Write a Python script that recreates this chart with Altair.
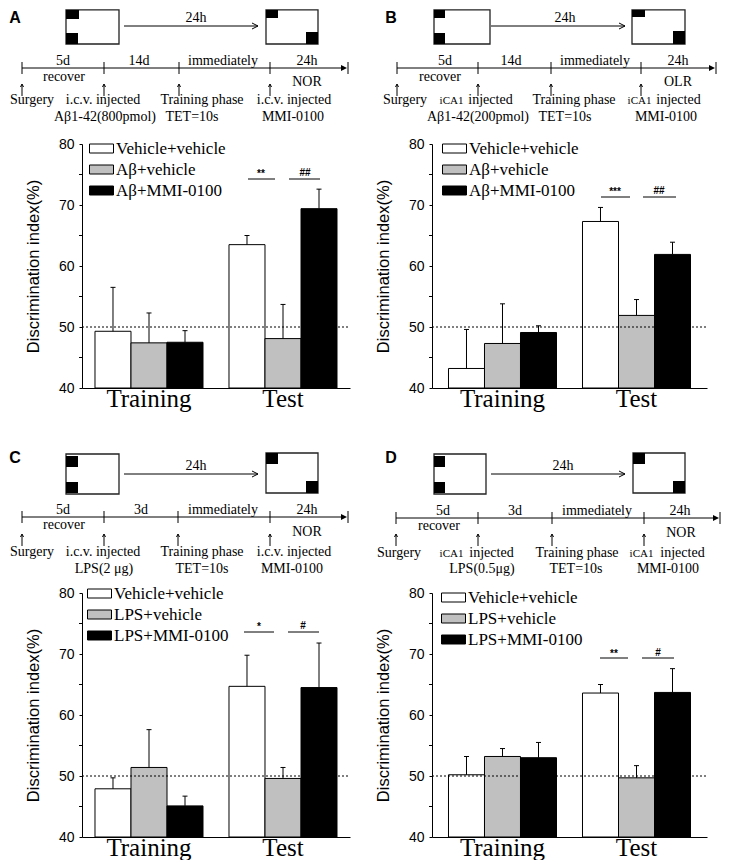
import altair as alt
import pandas as pd

SERIF = "Liberation Serif"
SANS = "Liberation Sans"

GROUPS = ["Training", "Test"]
SERIES_AB = ["Vehicle+vehicle", "Aβ+vehicle", "Aβ+MMI-0100"]
SERIES_CD = ["Vehicle+vehicle", "LPS+vehicle", "LPS+MMI-0100"]
FILLS = ["#ffffff", "#c0c0c0", "#000000"]

Y_MAJOR = [40, 50, 60, 70, 80]
Y_MINOR = [45, 55, 65, 75]
CHANCE = [50]

A_TRAIN = [49.3, 47.4, 47.5]
A_TRAIN_SEM = [7.2, 4.9, 1.9]
A_TEST = [63.5, 48.1, 69.4]
A_TEST_SEM = [1.5, 5.6, 3.2]
A_SIG = ["**", "##"]

B_TRAIN = [43.2, 47.3, 49.1]
B_TRAIN_SEM = [6.4, 6.5, 1.1]
B_TEST = [67.3, 51.9, 61.9]
B_TEST_SEM = [2.3, 2.6, 2.0]
B_SIG = ["***", "##"]

C_TRAIN = [47.9, 51.4, 45.1]
C_TRAIN_SEM = [1.8, 6.2, 1.6]
C_TEST = [64.7, 49.6, 64.5]
C_TEST_SEM = [5.1, 1.8, 7.3]
C_SIG = ["*", "#"]

D_TRAIN = [50.2, 53.2, 53.0]
D_TRAIN_SEM = [3.0, 1.3, 2.5]
D_TEST = [63.6, 49.7, 63.7]
D_TEST_SEM = [1.4, 2.0, 3.9]
D_SIG = ["**", "#"]

# protocol schematic texts (drawn as annotation above each bar chart)
A_STEPS = ["5d", "14d", "immediately", "24h"]
B_STEPS = ["5d", "14d", "immediately", "24h"]
C_STEPS = ["5d", "3d", "immediately", "24h"]
D_STEPS = ["5d", "3d", "immediately", "24h"]

H = 244
LEG_PATH = "M-1,-0.375H1V0.375H-1Z"

X_AXIS = alt.Axis(title=None, labelAngle=0, labelFont=SERIF, labelFontSize=25, labelColor="black",
                  ticks=False, domainColor="black", domainWidth=1, labelPadding=-2, grid=False)
Y_AXIS = alt.Axis(values=Y_MAJOR, title="Discrimination index(%)", titleFont=SANS, titleFontSize=16.5,
                  titleFontWeight="normal", titleColor="black", titlePadding=17, labelFont=SANS,
                  labelFontSize=14, labelColor="black", labelPadding=5, tickSize=3, tickColor="black",
                  tickWidth=1, domainColor="black", domainWidth=1, grid=False, labelFlush=False,
                  labelOverlap=False)


def pix(x, y):
    return (alt.X(x, scale=None), alt.Y(y, scale=None))


def schematic(s, ox, oy):
    layers = []
    X, Y = pix("x1:Q", "y1:Q")
    bx = pd.DataFrame([{"x1": a - ox, "x2": b - ox, "y1": c - oy, "y2": d - oy} for a, b, c, d in s["boxes"]])
    layers.append(alt.Chart(bx).mark_rect(fill="white", stroke="#222222", strokeWidth=1.3).encode(
        x=X, x2="x2:Q", y=Y, y2="y2:Q"))
    sq = pd.DataFrame([{"x1": a - ox, "x2": b - ox, "y1": c - oy, "y2": d - oy} for a, b, c, d in s["squares"]])
    layers.append(alt.Chart(sq).mark_rect(fill="black").encode(x=X, x2="x2:Q", y=Y, y2="y2:Q"))
    segs = []
    ax0, ax1, ay = s["arrow"]
    segs.append((ax0, ay, ax1, ay))
    ty = s["tl_y"]
    ticks = s["ticks"]
    end = s["end"]
    segs.append((ticks[0], ty, end - 3, ty))
    for t in ticks:
        segs.append((t, ty - 6, t, ty + 6))
    segs.append((end, ty - 6, end, ty + 6))
    u0, u1 = s["up"]
    for t in ticks:
        segs.append((t, u0 + 0.5, t, u1))
    for (a, b, yy) in s["sig_lines"]:
        segs.append((a, yy, b, yy))
    sg = pd.DataFrame([{"x1": a - ox, "y1": b - oy, "x2": c - ox, "y2": d - oy} for a, b, c, d in segs])
    layers.append(alt.Chart(sg).mark_rule(color="black", strokeWidth=1).encode(
        x=X, x2="x2:Q", y=Y, y2="y2:Q"))
    hr = pd.DataFrame([{"x1": ax1 - ox, "y1": ay - oy}])
    layers.append(alt.Chart(hr).mark_point(shape="M-1,-0.5L0,0L-1,0.5", filled=False, color="black",
                                           strokeWidth=1, size=144, opacity=1).encode(x=X, y=Y))
    ht = pd.DataFrame([{"x1": end - 1 - ox, "y1": ty - oy}])
    layers.append(alt.Chart(ht).mark_point(shape="M-1,-0.5L0,0L-1,0.5Z", filled=True, color="black",
                                           size=144, opacity=1).encode(x=X, y=Y))
    hu = pd.DataFrame([{"x1": t - ox, "y1": u0 - oy} for t in ticks])
    layers.append(alt.Chart(hu).mark_point(shape="M-0.5,1L0,0L0.5,1", filled=False, color="black",
                                           strokeWidth=1, size=36, opacity=1).encode(x=X, y=Y))
    tx = pd.DataFrame([{"t": t, "x1": x - ox, "y1": y - oy, "fs": fs} for t, x, y, fs in s["texts"]])
    layers.append(alt.Chart(tx).mark_text(font=SERIF, align="center", baseline="alphabetic", color="black").encode(
        x=X, y=Y, text="t:N", size=alt.Size("fs:Q", scale=None, legend=None)))
    st = pd.DataFrame([{"t": t, "x1": x - ox, "y1": y - oy} for t, x, y in s["sig_texts"]])
    layers.append(alt.Chart(st).mark_text(font=SANS, fontSize=10, fontWeight="bold", align="center",
                                          baseline="alphabetic", color="black").encode(x=X, y=Y, text="t:N"))
    lt = pd.DataFrame([{"t": s["letter"][0], "x1": s["letter"][1] - ox, "y1": s["letter"][2] - oy}])
    layers.append(alt.Chart(lt).mark_text(font=SANS, fontSize=16, fontWeight="bold", align="center",
                                          baseline="top", color="black").encode(x=X, y=Y, text="t:N"))
    return layers


def panel(series, train, train_sem, test, test_sem, geo, sch, anchor=False):
    ox, oy, W, po, lx, ly = geo
    rows = []
    for g, means, sems in (("Training", train, train_sem), ("Test", test, test_sem)):
        for s_, m, e in zip(series, means, sems):
            rows.append({"group": g, "series": s_, "mean": m, "sem": e})
    df = pd.DataFrame(rows)
    xs = alt.Scale(domain=GROUPS, paddingInner=0.194, paddingOuter=po)
    xos = alt.Scale(domain=series, paddingInner=0, paddingOuter=0)
    ys = alt.Scale(domain=[40, 80], nice=False, zero=False)
    base = alt.Chart(df).transform_calculate(upper="datum.mean + datum.sem")
    bars = base.mark_bar(stroke="black", strokeWidth=1).encode(
        x=alt.X("group:N", scale=xs, axis=X_AXIS),
        xOffset=alt.XOffset("series:N", scale=xos),
        y=alt.Y("mean:Q", scale=ys, axis=Y_AXIS),
        y2=alt.datum(40),
        fill=alt.Fill("series:N", scale=alt.Scale(domain=series, range=FILLS),
                      legend=alt.Legend(orient="none", legendX=lx, legendY=ly, title=None,
                                        symbolType=LEG_PATH, symbolSize=576, symbolStrokeColor="black",
                                        symbolStrokeWidth=1, labelFont=SERIF, labelFontSize=17,
                                        labelColor="black", labelOffset=2, rowPadding=-4, padding=0,
                                        symbolOffset=0, labelLimit=300)),
    )
    err = base.mark_rule(color="black", strokeWidth=1).encode(
        x=alt.X("group:N", scale=xs, axis=X_AXIS), xOffset=alt.XOffset("series:N", scale=xos),
        y=alt.Y("mean:Q", scale=ys, axis=Y_AXIS), y2="upper:Q")
    cap = base.mark_tick(color="black", thickness=1, size=5, opacity=1).encode(
        x=alt.X("group:N", scale=xs, axis=X_AXIS), xOffset=alt.XOffset("series:N", scale=xos),
        y=alt.Y("upper:Q", scale=ys, axis=Y_AXIS))
    chance = alt.Chart(pd.DataFrame({"v": CHANCE})).mark_rule(color="black", strokeWidth=1, strokeDash=[2, 2]).encode(
        y=alt.Y("v:Q", scale=ys, axis=Y_AXIS), x=alt.value(0), x2=alt.value(W))
    minor = alt.Chart(pd.DataFrame({"v": Y_MINOR})).mark_rule(color="black", strokeWidth=1).encode(
        y=alt.Y("v:Q", scale=ys, axis=Y_AXIS), x=alt.value(-3), x2=alt.value(0))
    layers = [bars, chance, err, cap, minor] + schematic(sch, ox, oy)
    if anchor:
        X, Y = pix("x1:Q", "y1:Q")
        layers.append(alt.Chart(pd.DataFrame([{"x1": 8 - ox, "y1": 8 - oy}])).mark_point(
            size=1, opacity=0).encode(x=X, y=Y))
    return alt.layer(*layers).properties(width=W, height=H)


def texts_for(steps, xs_steps, y_above, below, row1, row2):
    out = [(t, x, y_above, 14) for t, x in zip(steps, xs_steps)]
    out += [(t, x, y, 14) for t, x, y in below]
    out += row1 + row2
    return out


SCH_A = dict(
    letter=("A", 14, 8.5),
    boxes=[(65, 118, 8.8, 43), (265, 317, 8.8, 43)],
    squares=[(65, 78, 9, 18), (65, 77, 32, 43), (265, 277, 9, 17), (305, 317, 31, 43)],
    arrow=(123, 257, 25),
    tl_y=67, ticks=[21, 103, 178, 269], end=347, up=(83, 95),
    sig_lines=[(247, 274, 178), (288, 319, 178)],
    sig_texts=[(A_SIG[0], 260, 176), (A_SIG[1], 304, 175)],
    texts=texts_for(A_STEPS, [62, 138, 222, 306], 64,
                    [("recover", 63, 80), ("NOR", 306, 85)],
                    [("Surgery", 31, 103, 14), ("i.c.v. injected", 102, 103, 14),
                     ("Training phase", 201, 103, 14), ("i.c.v. injected", 293, 103, 14)],
                    [("Aβ1-42(800pmol)", 104, 120, 14), ("TET=10s", 191, 120, 14), ("MMI-0100", 292, 120, 14)])
    + [("24h", 195, 21, 14)],
)
SCH_B = dict(
    letter=("B", 390, 8.5),
    boxes=[(433, 489, 8.8, 43), (631, 684, 8.8, 43)],
    squares=[(433, 444, 9, 17), (433, 444, 32, 43), (631, 644, 9, 16), (672, 684, 30, 43)],
    arrow=(490, 624, 25),
    tl_y=67, ticks=[396, 477, 550, 640], end=715, up=(83, 95),
    sig_lines=[(600, 629, 196), (642, 675, 196)],
    sig_texts=[(B_SIG[0], 614, 194), (B_SIG[1], 658, 193)],
    texts=texts_for(B_STEPS, [444, 510, 594, 677], 64,
                    [("recover", 439, 80), ("OLR", 677, 85)],
                    [("Surgery", 404, 103, 14), ("iCA1", 450.5, 103, 11), ("injected", 489.5, 103, 14),
                     ("Training phase", 573, 103, 14), ("iCA1", 638.5, 103, 11), ("injected", 677.5, 103, 14)],
                    [("Aβ1-42(200pmol)", 477, 120, 14), ("TET=10s", 564, 120, 14), ("MMI-0100", 665, 120, 14)])
    + [("24h", 564, 21, 14)],
)
SCH_C = dict(
    letter=("C", 14, 449),
    boxes=[(65, 118, 453, 493), (265, 317, 452, 492)],
    squares=[(65, 77, 455, 466), (65, 77, 481, 492), (265, 277, 452, 463), (305, 317, 480, 492)],
    arrow=(123, 257, 473),
    tl_y=516, ticks=[21, 103, 177, 269], end=347, up=(533, 545),
    sig_lines=[(243, 273, 631), (287, 318, 631)],
    sig_texts=[(C_SIG[0], 258, 629), (C_SIG[1], 302, 628)],
    texts=texts_for(C_STEPS, [62, 140, 222, 306], 513,
                    [("recover", 63, 528), ("NOR", 306, 535)],
                    [("Surgery", 31, 555, 14), ("i.c.v. injected", 102, 555, 14),
                     ("Training phase", 201, 555, 14), ("i.c.v. injected", 293, 555, 14)],
                    [("LPS(2 μg)", 103, 572, 14), ("TET=10s", 201, 572, 14), ("MMI-0100", 291, 572, 14)])
    + [("24h", 195, 469, 14)],
)
SCH_D = dict(
    letter=("D", 390, 449),
    boxes=[(433, 485, 453, 493), (632, 684, 452, 492)],
    squares=[(433, 444, 455, 466), (433, 444, 481, 492), (632, 644, 452, 463), (672, 684, 480, 492)],
    arrow=(490, 624, 473),
    tl_y=517, ticks=[395, 477, 551, 643], end=719, up=(533, 545),
    sig_lines=[(599, 627, 657), (641, 673, 657)],
    sig_texts=[(D_SIG[0], 613, 656), (D_SIG[1], 657, 655)],
    texts=texts_for(D_STEPS, [442, 514, 596, 679], 514,
                    [("recover", 438, 529), ("NOR", 680, 536)],
                    [("Surgery", 398, 556, 14), ("iCA1", 450.5, 556, 11), ("injected", 490.5, 556, 14),
                     ("Training phase", 576, 556, 14), ("iCA1", 640.5, 556, 11), ("injected", 681.5, 556, 14)],
                    [("LPS(0.5μg)", 481, 572, 14), ("TET=10s", 575, 572, 14), ("MMI-0100", 667, 572, 14)])
    + [("24h", 562, 469, 14)],
)

# geometry: plot origin x, y, width, outer band padding, legend x, legend y
GEO_A = (81, 143, 268, 0.097, 7, -8)
GEO_B = (431, 143, 275, 0.1231, 10, -8)
GEO_C = (81, 592, 268, 0.097, 5, -12)
GEO_D = (431, 592, 275, 0.1231, 9, -8)

pA = panel(SERIES_AB, A_TRAIN, A_TRAIN_SEM, A_TEST, A_TEST_SEM, GEO_A, SCH_A, anchor=True)
pB = panel(SERIES_AB, B_TRAIN, B_TRAIN_SEM, B_TEST, B_TEST_SEM, GEO_B, SCH_B)
pC = panel(SERIES_CD, C_TRAIN, C_TRAIN_SEM, C_TEST, C_TEST_SEM, GEO_C, SCH_C)
pD = panel(SERIES_CD, D_TRAIN, D_TRAIN_SEM, D_TEST, D_TEST_SEM, GEO_D, SCH_D)

chart = alt.concat(pA, pB, pC, pD, columns=2, spacing={"row": 205, "column": 82}, bounds="flush").resolve_scale(
    x="independent", xOffset="independent", y="independent", fill="independent"
).properties(padding=0, background="white").configure_view(stroke=None)

chart.save("out.html", embed_options={"renderer": "svg", "actions": False})
